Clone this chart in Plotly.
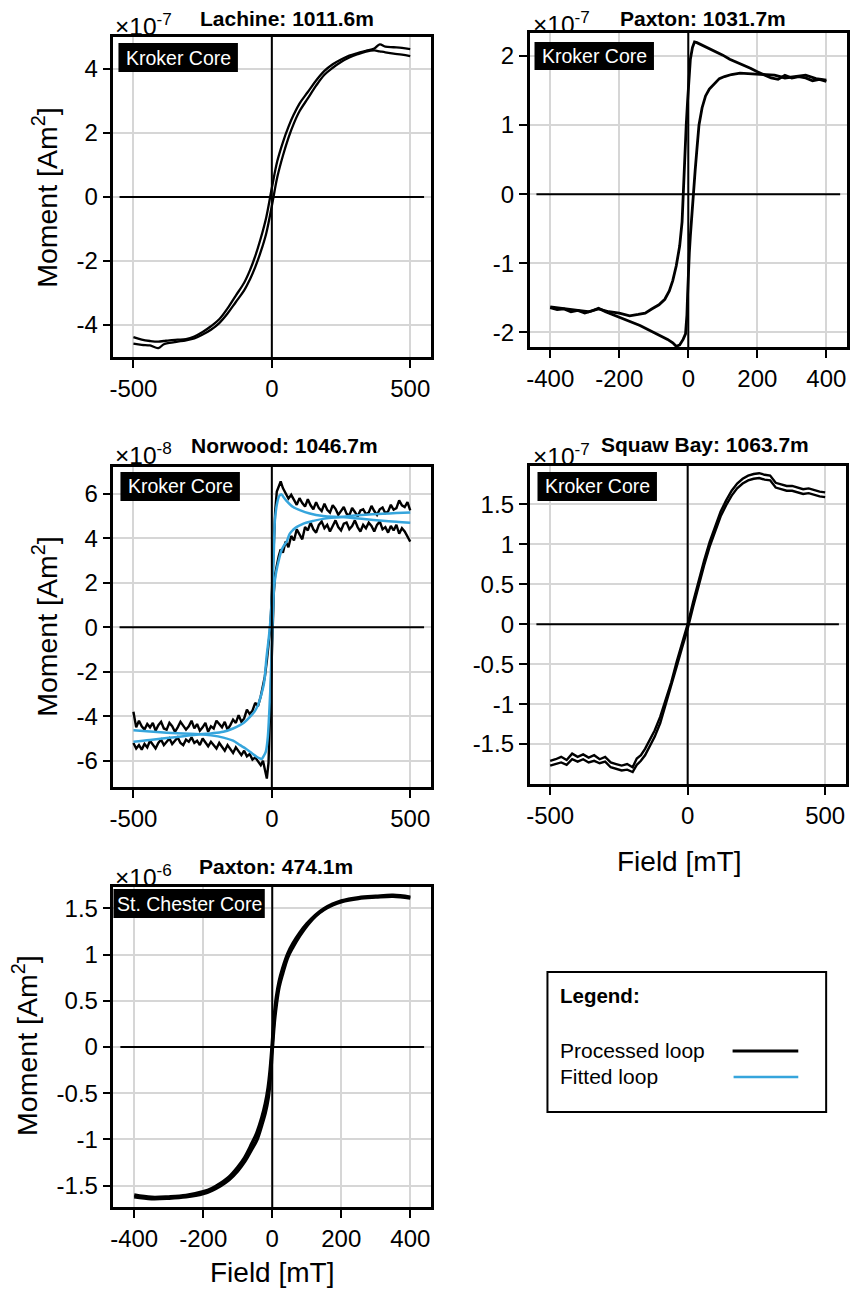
import plotly.graph_objects as go

# ---------------- data (moment in units of the axis multiplier) ----------------
# Lachine 1011.6 m, x1e-7 Am^2
lachine_desc_field = [500, 470, 440, 410, 390, 370, 340, 310, 280, 250, 220, 190, 160, 130, 100, 80, 60, 40, 20, 0,
                      -20, -40, -60, -80, -100, -130, -160, -190, -220, -250, -280, -310, -340, -370, -390, -410,
                      -440, -470, -500]
lachine_desc_moment = [4.62, 4.66, 4.68, 4.70, 4.77, 4.64, 4.57, 4.50, 4.42, 4.30, 4.15, 3.94, 3.64, 3.28, 2.92, 2.59,
                       2.19, 1.71, 1.13, 0.28, -0.63, -1.29, -1.85, -2.31, -2.68, -3.08, -3.48, -3.82, -4.04, -4.22,
                       -4.36, -4.44, -4.46, -4.48, -4.50, -4.52, -4.50, -4.46, -4.38]
lachine_asc_field = [-500, -470, -440, -410, -390, -370, -340, -310, -280, -250, -220, -190, -160, -130, -100, -80,
                     -60, -40, -20, 0, 20, 40, 60, 80, 100, 130, 160, 190, 220, 250, 280, 310, 340, 370, 390, 410,
                     440, 470, 500]
lachine_asc_moment = [-4.58, -4.62, -4.64, -4.72, -4.60, -4.56, -4.52, -4.48, -4.42, -4.30, -4.15, -3.94, -3.64,
                      -3.28, -2.92, -2.59, -2.19, -1.71, -1.13, -0.28, 0.63, 1.29, 1.85, 2.31, 2.68, 3.08, 3.48,
                      3.82, 4.04, 4.22, 4.36, 4.46, 4.54, 4.58, 4.55, 4.52, 4.48, 4.45, 4.40]

# Paxton 1031.7 m, x1e-7 Am^2
paxton_desc_field = [400, 380, 360, 340, 320, 300, 280, 260, 240, 220, 200, 180, 160, 140, 120, 100, 80, 60, 40, 25,
                     18, 12, 6, 2, -2, -6, -10, -13, -18, -25, -35, -45, -55, -68, -85, -106, -125, -145, -170, -200,
                     -230, -260, -290, -320, -350, -380, -400]
paxton_desc_moment = [1.63, 1.66, 1.64, 1.68, 1.70, 1.68, 1.72, 1.66, 1.68, 1.72, 1.77, 1.82, 1.86, 1.90, 1.95, 2.01,
                      2.06, 2.11, 2.16, 2.19, 2.20, 2.12, 1.95, 1.70, 1.35, 1.00, 0.50, 0.00, -0.40, -0.75, -1.04,
                      -1.25, -1.40, -1.52, -1.60, -1.66, -1.72, -1.74, -1.76, -1.72, -1.70, -1.66, -1.70, -1.68,
                      -1.66, -1.65, -1.63]
paxton_asc_field = [-400, -380, -360, -340, -320, -300, -280, -260, -240, -220, -200, -180, -160, -140, -120, -100,
                    -80, -60, -45, -35, -25, -15, -8, -4, -2, 0, 3, 6, 10, 15, 20, 25, 31, 40, 50, 61, 75, 90, 105,
                    125, 150, 175, 200, 225, 250, 280, 310, 340, 370, 400]
paxton_asc_moment = [-1.64, -1.67, -1.66, -1.70, -1.68, -1.72, -1.69, -1.65, -1.70, -1.74, -1.78, -1.82, -1.85,
                     -1.90, -1.95, -2.00, -2.05, -2.10, -2.15, -2.20, -2.18, -2.10, -2.02, -1.75, -1.45, -1.15,
                     -0.85, -0.60, -0.30, 0.00, 0.35, 0.65, 1.00, 1.25, 1.42, 1.52, 1.60, 1.67, 1.70, 1.73, 1.75,
                     1.74, 1.74, 1.72, 1.72, 1.68, 1.70, 1.72, 1.67, 1.65]

# Norwood 1046.7 m, x1e-8 Am^2
norwood_desc_field = [500, 490, 480, 470, 460, 450, 440, 430, 420, 410, 400, 390, 380, 370, 360, 350, 340, 330, 320,
                      310, 300, 290, 280, 270, 260, 250, 240, 230, 220, 210, 200, 190, 180, 170, 160, 150, 140, 130,
                      120, 110, 100, 90, 80, 70, 60, 50, 40, 32, 25, 18, 12, 7, 2, -3, -7, -12, -18, -25, -32, -40,
                      -50, -60, -70, -80, -90, -100, -110, -120, -130, -140, -150, -160, -170, -180, -190, -200,
                      -210, -220, -230, -240, -250, -260, -270, -280, -290, -300, -310, -320, -330, -340, -350, -360,
                      -370, -380, -390, -400, -410, -420, -430, -440, -450, -460, -470, -480, -490, -500]
norwood_desc_moment = [5.25, 5.62, 5.40, 5.48, 5.70, 5.35, 5.28, 5.50, 5.20, 5.12, 5.38, 5.30, 5.05, 5.22, 5.45,
                       5.15, 5.08, 5.30, 5.25, 4.98, 5.18, 5.36, 5.02, 5.10, 5.40, 5.20, 5.05, 5.32, 5.48, 5.15,
                       5.28, 5.55, 5.22, 5.35, 5.62, 5.30, 5.48, 5.75, 5.42, 5.58, 5.80, 5.50, 5.72, 5.95, 5.78,
                       6.05, 6.25, 6.55, 6.35, 6.10, 5.20, 3.60, 1.80, 0.60, -0.20, -0.90, -1.50, -2.20, -2.70,
                       -3.10, -3.55, -3.40, -3.75, -3.90, -3.70, -4.10, -4.25, -3.95, -4.30, -4.15, -4.40, -4.60,
                       -4.25, -4.50, -4.35, -4.20, -4.55, -4.45, -4.70, -4.30, -4.50, -4.65, -4.35, -4.55, -4.20,
                       -4.45, -4.60, -4.40, -4.25, -4.50, -4.70, -4.45, -4.30, -4.60, -4.55, -4.25, -4.40, -4.65,
                       -4.30, -4.50, -4.35, -4.60, -4.45, -4.20, -4.50, -3.80]
norwood_asc_field = [-500, -490, -480, -470, -460, -450, -440, -430, -420, -410, -400, -390, -380, -370, -360, -350,
                     -340, -330, -320, -310, -300, -290, -280, -270, -260, -250, -240, -230, -220, -210, -200, -190,
                     -180, -170, -160, -150, -140, -130, -120, -110, -100, -90, -80, -70, -60, -50, -40, -32, -25,
                     -18, -12, -7, -3, 2, 7, 12, 18, 25, 32, 40, 50, 60, 70, 80, 90, 100, 110, 120, 130, 140, 150,
                     160, 170, 180, 190, 200, 210, 220, 230, 240, 250, 260, 270, 280, 290, 300, 310, 320, 330, 340,
                     350, 360, 370, 380, 390, 400, 410, 420, 430, 440, 450, 460, 470, 480, 490, 500]
norwood_asc_moment = [-5.20, -5.45, -5.30, -5.50, -5.25, -5.40, -5.10, -5.30, -5.45, -5.20, -5.05, -5.30, -5.15,
                      -5.00, -5.25, -5.10, -4.95, -5.20, -5.30, -5.05, -5.15, -4.95, -5.20, -5.10, -5.30, -5.00,
                      -5.20, -5.35, -5.15, -5.30, -5.45, -5.20, -5.40, -5.55, -5.30, -5.50, -5.65, -5.40, -5.60,
                      -5.75, -5.55, -5.80, -5.70, -5.95, -5.85, -6.05, -6.20, -6.00, -6.45, -6.80, -6.10, -4.20,
                      -2.50, -0.20, 1.50, 2.40, 2.80, 3.20, 3.50, 3.35, 3.85, 3.60, 4.10, 3.90, 4.40, 4.15, 3.95,
                      4.50, 4.35, 4.70, 4.40, 4.25, 4.60, 4.75, 4.45, 4.60, 4.30, 4.55, 4.80, 4.50, 4.35, 4.65,
                      4.70, 4.40, 4.55, 4.80, 4.50, 4.30, 4.60, 4.45, 4.70, 4.55, 4.30, 4.60, 4.75, 4.40, 4.50,
                      4.25, 4.55, 4.35, 4.60, 4.20, 4.45, 4.30, 4.10, 3.85]
norwood_fit_desc_field = [500, 450, 400, 350, 300, 250, 185, 137, 101, 77, 53, 42, 35, 28, 23, 18, 15, 11, 7, 2, -7,
                          -13, -19, -28, -37, -50, -62, -79, -100, -115, -140, -175, -220, -260, -320, -380, -440,
                          -500]
norwood_fit_desc_moment = [4.70, 4.74, 4.79, 4.84, 4.90, 4.95, 5.00, 5.11, 5.26, 5.40, 5.68, 5.85, 5.97, 5.92, 5.78,
                           5.50, 5.26, 4.80, 3.30, 1.80, 0.00, -0.70, -1.33, -2.50, -2.98, -3.50, -3.78, -4.03,
                           -4.28, -4.40, -4.55, -4.70, -4.77, -4.81, -4.90, -4.98, -5.07, -5.15]
norwood_fit_asc_field = [-500, -440, -380, -320, -260, -220, -175, -140, -115, -95, -73, -55, -43, -37, -30, -22, -15,
                         -10, -5, 2, 5, 8, 12, 17, 25, 35, 45, 53, 65, 77, 89, 105, 119, 150, 191, 250, 300, 350, 400,
                         450, 500]
norwood_fit_asc_moment = [-4.63, -4.69, -4.74, -4.78, -4.81, -4.86, -4.96, -5.10, -5.30, -5.45, -5.65, -5.82, -5.90,
                          -5.92, -5.80, -5.60, -5.00, -4.00, -2.70, 0.00, 0.90, 1.80, 2.20, 2.56, 3.00, 3.46, 3.70,
                          3.83, 4.21, 4.38, 4.50, 4.60, 4.68, 4.78, 4.88, 4.95, 5.02, 5.07, 5.10, 5.13, 5.16]

# Squaw Bay 1063.7 m, x1e-7 Am^2
squaw_field = [-500, -480, -460, -440, -420, -400, -380, -360, -340, -320, -300, -280, -260, -240, -220, -200, -185,
               -170, -155, -140, -120, -100, -80, -60, -40, -20, 0, 20, 40, 60, 80, 100, 120, 140, 160, 180, 200,
               220, 240, 260, 280, 300, 320, 340, 360, 380, 400, 420, 440, 460, 480, 500]
squaw_upper_moment = [-1.71, -1.69, -1.66, -1.70, -1.62, -1.66, -1.63, -1.67, -1.64, -1.69, -1.66, -1.73, -1.75,
                      -1.77, -1.75, -1.79, -1.68, -1.64, -1.56, -1.46, -1.33, -1.16, -0.95, -0.73, -0.47, -0.25,
                      0.00, 0.28, 0.55, 0.80, 1.03, 1.23, 1.41, 1.55, 1.67, 1.76, 1.82, 1.86, 1.88, 1.89, 1.87,
                      1.86, 1.77, 1.75, 1.73, 1.73, 1.71, 1.69, 1.70, 1.68, 1.66, 1.65]
squaw_lower_moment = [-1.77, -1.75, -1.73, -1.76, -1.69, -1.72, -1.69, -1.73, -1.71, -1.74, -1.72, -1.79, -1.81,
                      -1.83, -1.82, -1.85, -1.76, -1.71, -1.64, -1.54, -1.41, -1.24, -1.01, -0.79, -0.53, -0.29,
                      -0.06, 0.22, 0.49, 0.74, 0.97, 1.17, 1.35, 1.49, 1.61, 1.70, 1.76, 1.80, 1.82, 1.83, 1.81,
                      1.80, 1.71, 1.69, 1.67, 1.67, 1.65, 1.63, 1.64, 1.62, 1.60, 1.59]

# Paxton 474.1 m (St. Chester core), x1e-6 Am^2
chester_field = [-400, -350, -300, -250, -200, -175, -150, -125, -100, -80, -60, -45, -30, -20, -12, -6, 0, 6, 12,
                 20, 30, 45, 60, 80, 100, 125, 150, 175, 200, 250, 300, 350, 400]
chester_upper_moment = [-1.60, -1.625, -1.62, -1.605, -1.565, -1.53, -1.475, -1.405, -1.30, -1.195, -1.05, -0.93,
                        -0.76, -0.61, -0.44, -0.24, 0.04, 0.34, 0.54, 0.71, 0.85, 1.01, 1.12, 1.235, 1.33, 1.425,
                        1.495, 1.545, 1.58, 1.615, 1.63, 1.64, 1.62]
chester_lower_moment = [-1.62, -1.64, -1.635, -1.62, -1.585, -1.55, -1.50, -1.435, -1.34, -1.24, -1.11, -1.01,
                        -0.84, -0.71, -0.56, -0.36, -0.04, 0.26, 0.46, 0.65, 0.79, 0.97, 1.08, 1.205, 1.31, 1.415,
                        1.485, 1.535, 1.57, 1.605, 1.62, 1.63, 1.61]

ticks_500 = [-500, 0, 500]
ticks_400 = [-400, -200, 0, 200, 400]
lachine_yticks = [-4, -2, 0, 2, 4]
paxton_yticks = [-2, -1, 0, 1, 2]
norwood_yticks = [-6, -4, -2, 0, 2, 4, 6]
half_yticks = [-1.5, -1, -0.5, 0, 0.5, 1, 1.5]

W, H = 858, 1295
FONT = "Liberation Sans, Arial, sans-serif"
BLUE = "#36a5dc"
GRID = "#d6d6d6"


def px(x):
    return x / W


def py(y):
    return 1 - y / H


def fmt(v):
    return "{:g}".format(v)


fig = go.Figure()

panels = [
    dict(ax="", dx=(110, 429), dy=(37, 357), xr=[-572, 575], yr=[-5.0, 5.0], xt=ticks_500, yt=lachine_yticks,
         hl=[-550, 550], title="Lachine: 1011.6m", tpos=(284, 19), exp="-7", epos=(110, 27),
         core="Kroker Core", box=(115, 43, 235, 72)),
    dict(ax="2", dx=(528, 847), dy=(33, 347), xr=[-460, 460], yr=[-2.21, 2.33], xt=ticks_400, yt=paxton_yticks,
         hl=[-440, 440], title="Paxton: 1031.7m", tpos=(702, 18), exp="-7", epos=(529, 24),
         core="Kroker Core", box=(533, 42, 653, 70)),
    dict(ax="3", dx=(110, 429), dy=(467, 787), xr=[-572, 575], yr=[-7.18, 7.2], xt=ticks_500, yt=norwood_yticks,
         hl=[-550, 550], title="Norwood: 1046.7m", tpos=(282, 445), exp="-8", epos=(110, 455),
         core="Kroker Core", box=(117, 472, 237, 501)),
    dict(ax="4", dx=(528, 846), dy=(466, 784), xr=[-575, 576], yr=[-2.0, 1.98], xt=ticks_500, yt=half_yticks,
         hl=[-550, 550], title="Squaw Bay: 1063.7m", tpos=(704, 444), exp="-7", epos=(529, 456),
         core="Kroker Core", box=(536, 472, 656, 501)),
    dict(ax="5", dx=(110, 429), dy=(887, 1207), xr=[-460, 460], yr=[-1.73, 1.73], xt=ticks_400, yt=half_yticks,
         hl=[-440, 440], title="Paxton: 474.1m", tpos=(273, 867), exp="-6", epos=(110, 877),
         core="St. Chester Core", box=(110, 889, 262, 918)),
]


def add_line(ax, field, moment, color="black", width=2.5, shape="linear"):
    fig.add_trace(go.Scatter(x=field, y=moment, mode="lines", showlegend=False, hoverinfo="skip",
                             line=dict(color=color, width=width, shape=shape),
                             xaxis="x" + ax, yaxis="y" + ax))


def note(text, x, y, size, color="black", xanchor="center", yanchor="middle", angle=0):
    fig.add_annotation(text=text, x=px(x), y=py(y), xref="paper", yref="paper", showarrow=False,
                       xanchor=xanchor, yanchor=yanchor, textangle=angle,
                       font=dict(family=FONT, size=size, color=color))


add_line("", lachine_desc_field, lachine_desc_moment, width=2.3, shape="spline")
add_line("", lachine_asc_field, lachine_asc_moment, width=2.3, shape="spline")
add_line("2", paxton_desc_field, paxton_desc_moment, width=2.8)
add_line("2", paxton_asc_field, paxton_asc_moment, width=2.8)
add_line("3", norwood_desc_field, norwood_desc_moment, width=2.4)
add_line("3", norwood_asc_field, norwood_asc_moment, width=2.4)
add_line("3", norwood_fit_desc_field, norwood_fit_desc_moment, color=BLUE, width=2.5, shape="spline")
add_line("3", norwood_fit_asc_field, norwood_fit_asc_moment, color=BLUE, width=2.5, shape="spline")
add_line("4", squaw_field, squaw_upper_moment, width=2.4)
add_line("4", squaw_field, squaw_lower_moment, width=2.4)
add_line("5", chester_field, chester_upper_moment, width=3.4, shape="spline")
add_line("5", chester_field, chester_lower_moment, width=3.4, shape="spline")

axis_style = dict(showgrid=True, gridcolor=GRID, gridwidth=2, showline=True, linecolor="black", linewidth=2.5,
                  mirror=True, ticks="outside", ticklen=8, tickwidth=2, tickcolor="black", zeroline=False,
                  tickfont=dict(family=FONT, size=24, color="black"), fixedrange=True)

layout = {}
for p in panels:
    ax = p["ax"]
    layout["xaxis" + ax] = dict(domain=[px(p["dx"][0]), px(p["dx"][1])], anchor="y" + ax, range=p["xr"],
                                tickvals=p["xt"], ticktext=[fmt(v) for v in p["xt"]], **axis_style)
    layout["yaxis" + ax] = dict(domain=[py(p["dy"][1]), py(p["dy"][0])], anchor="x" + ax, range=p["yr"],
                                tickvals=p["yt"], ticktext=[fmt(v) for v in p["yt"]], **axis_style)
    # zero lines
    fig.add_shape(type="line", xref="x" + ax, yref="y" + ax, x0=p["hl"][0], x1=p["hl"][1], y0=0, y1=0,
                  line=dict(color="black", width=2))
    fig.add_shape(type="line", xref="x" + ax, yref="y" + ax + " domain", x0=0, x1=0, y0=0, y1=1,
                  line=dict(color="black", width=2))
    # core label
    bx = p["box"]
    fig.add_shape(type="rect", xref="paper", yref="paper", x0=px(bx[0]), x1=px(bx[2]), y0=py(bx[3]),
                  y1=py(bx[1]), fillcolor="black", line=dict(width=0))
    note(p["core"], (bx[0] + bx[2]) / 2, (bx[1] + bx[3]) / 2, 19.5, color="white")
    # title and multiplier
    note("<b>" + p["title"] + "</b>", p["tpos"][0], p["tpos"][1], 21)
    note("\u00d710<sup>" + p["exp"] + "</sup>", p["epos"][0], p["epos"][1] - 2, 24.5, xanchor="left")

# axis titles
for x, y in [(41, 197), (41, 626), (21, 1045)]:
    note("Moment [Am<sup>2</sup>]", x, y, 28.5, angle=-90)
note("Field [mT]", 678, 861, 28)
note("Field [mT]", 269, 1272, 28)

# legend box
fig.add_shape(type="rect", xref="paper", yref="paper", x0=px(546), x1=px(826), y0=py(1112), y1=py(972),
              line=dict(color="black", width=2))
note("<b>Legend:</b>", 557, 995, 20.5, xanchor="left")
note("Processed loop", 557, 1050, 21, xanchor="left")
note("Fitted loop", 557, 1076, 21, xanchor="left")
fig.add_shape(type="line", xref="paper", yref="paper", x0=px(732), x1=px(798), y0=py(1051), y1=py(1051),
              line=dict(color="black", width=3))
fig.add_shape(type="line", xref="paper", yref="paper", x0=px(733), x1=px(798), y0=py(1077), y1=py(1077),
              line=dict(color=BLUE, width=2.5))

fig.update_layout(width=W, height=H, margin=dict(l=0, r=0, t=0, b=0), plot_bgcolor="white",
                  paper_bgcolor="white", showlegend=False, **layout)

fig.write_html("out.html", config={"displayModeBar": False},
               post_script="document.body.style.margin = '0px';")
